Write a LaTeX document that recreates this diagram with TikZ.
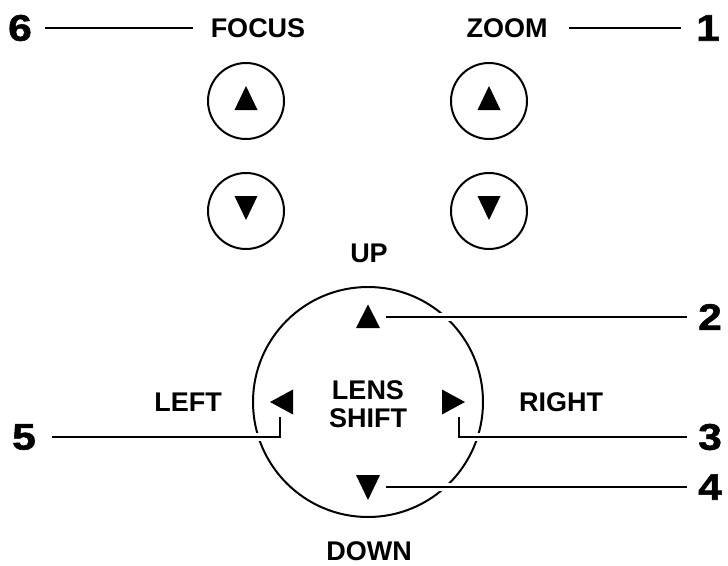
\documentclass[tikz,border=0pt]{standalone}
\usepackage{fontspec}
\setmainfont{Liberation Sans}
\newfontfamily\numfont{Liberation Sans Bold}[FakeStretch=1.15,FakeBold=1.5]
\usetikzlibrary{calc}
\begin{document}
\begin{tikzpicture}[x=1pt,y=-1pt,
  lbl/.style={font=\fontsize{27}{27}\selectfont\bfseries, inner sep=0pt, anchor=center},
  num/.style={font=\fontsize{37}{37}\selectfont\numfont, inner sep=0pt, anchor=center},
  btn/.style={draw, circle, line width=2pt, minimum size=76pt, inner sep=0pt},
  big/.style={draw, circle, line width=2pt, minimum size=230pt, inner sep=0pt},
  leader/.style={line width=2pt, preaction={draw=white, line width=8pt}},
  lead/.style={line width=2pt}
]
\useasboundingbox[fill=white] (0,0) rectangle (728,565);
% buttons
\node[btn] (fu) at (246,101) {};
\node[btn] (fd) at (246,211) {};
\node[btn] (zu) at (489,101) {};
\node[btn] (zd) at (489,211) {};
\fill[shift={(fu)}] (-11.5,9) -- (11.5,9) -- (0,-15) -- cycle;
\fill[shift={(zu)}] (-11.5,9) -- (11.5,9) -- (0,-15) -- cycle;
\fill[shift={(fd)}] (-11.5,-15) -- (11.5,-15) -- (0,9) -- cycle;
\fill[shift={(zd)}] (-11.5,-15) -- (11.5,-15) -- (0,9) -- cycle;
% top labels
\node[lbl] (focus) at (258,28) {FOCUS};
\node[lbl] (zoom) at (507,28) {ZOOM};
\node[num] (n6) at (20,28) {6};
\node[num] (n1) at (708,28) {1};
\coordinate (a6) at (45,28);
\coordinate (b6) at (193,28);
\coordinate (a1) at (569,28);
\coordinate (b1) at (681,28);
\draw[lead] (a6) -- (b6);
\draw[lead] (a1) -- (b1);
% lens shift
\node[big] (ls) at (368,402) {};
\node[lbl] (up) at (369,253) {UP};
\node[lbl] (down) at (369,551) {DOWN};
\node[lbl] (left) at (188,402) {LEFT};
\node[lbl] (right) at (561,402) {RIGHT};
\node[lbl, align=center, font=\fontsize{27}{28}\selectfont\bfseries] (lens) at (368,404) {LENS\\SHIFT};
\fill[shift={(ls)}] (-12,-74) -- (12,-74) -- (0,-97.5) -- cycle;
\fill[shift={(ls)}] (-12,73) -- (12,73) -- (0,98) -- cycle;
\fill[shift={(ls)}] (-75,-12.5) -- (-75,12.5) -- (-98,0) -- cycle;
\fill[shift={(ls)}] (74,-12.5) -- (74,12.5) -- (97,0) -- cycle;
% numbers
\node[num] (n2) at (710,317) {2};
\node[num] (n3) at (710,437) {3};
\node[num] (n4) at (710,487) {4};
\node[num] (n5) at (24,437) {5};
% leaders
\coordinate (s2) at (386,317);
\coordinate (e2) at (687,317);
\coordinate (s4) at (386,487);
\coordinate (e4) at (687,487);
\coordinate (s5) at (280,417);
\coordinate (k5) at (280,437);
\coordinate (e5) at (52,437);
\coordinate (s3) at (459,417);
\coordinate (k3) at (459,437);
\coordinate (e3) at (687,437);
\draw[leader] (s2) -- (e2);
\draw[leader] (s4) -- (e4);
\draw[leader] (s5) -- (k5) -- (e5);
\draw[leader] (s3) -- (k3) -- (e3);
\end{tikzpicture}
\end{document}
